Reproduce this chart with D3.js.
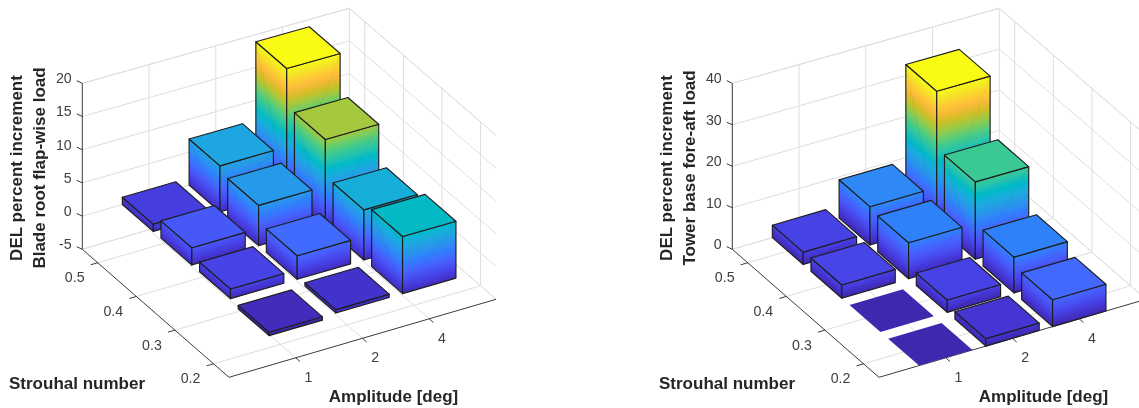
<!DOCTYPE html>
<html>
<head>
<meta charset="utf-8">
<script src="https://cdn.jsdelivr.net/npm/d3@7"></script>
<style>
html,body{margin:0;padding:0;background:#fff;overflow:hidden}
svg{display:block;filter:blur(0.35px)}
text{font-family:"Liberation Sans",Arial,Helvetica,sans-serif}
</style>
</head>
<body>
<svg id="chart" width="1139" height="408"></svg>
<script>
// ---------- data ----------
const amplitudeLabels = ["1", "2", "4"];
const strouhalLabels = ["0.2", "0.3", "0.4", "0.5"];

// rows: amplitude; columns: Strouhal number 0.2 .. 0.5
const bladeRootAmp1 = [-0.5, 1.45, 2.6, 1.1];
const bladeRootAmp2 = [0.5, 3.55, 6.1, 7.0];
const bladeRootAmp4 = [8.65, 7.6, 13.2, 18.9];

const towerBaseAmp1 = [-0.2, -0.2, 3.2, 3.0];
const towerBaseAmp2 = [1.8, 3.0, 8.7, 9.3];
const towerBaseAmp4 = [6.5, 8.7, 18.8, 32.7];

const bladeZTicks = [-5, 0, 5, 10, 15, 20];
const towerZTicks = [0, 10, 20, 30, 40];

const bladeYLabel = ["DEL percent increment", "Blade root flap-wise load"];
const towerYLabel = ["DEL percent increment", "Tower base fore-aft load"];

// MATLAB parula colormap
const parula = [[0.2422,0.1504,0.6603],[0.2504,0.1650,0.7076],[0.2578,0.1818,0.7511],[0.2647,0.1978,0.7952],[0.2706,0.2147,0.8364],[0.2751,0.2342,0.8710],[0.2783,0.2559,0.8991],[0.2803,0.2782,0.9221],[0.2813,0.3006,0.9414],[0.2810,0.3228,0.9579],[0.2795,0.3447,0.9717],[0.2760,0.3667,0.9829],[0.2699,0.3892,0.9906],[0.2602,0.4123,0.9952],[0.2440,0.4358,0.9988],[0.2206,0.4603,0.9973],[0.1963,0.4847,0.9892],[0.1834,0.5074,0.9798],[0.1786,0.5289,0.9682],[0.1764,0.5499,0.9520],[0.1687,0.5703,0.9359],[0.1540,0.5902,0.9218],[0.1460,0.6091,0.9079],[0.1380,0.6276,0.8973],[0.1248,0.6459,0.8883],[0.1113,0.6635,0.8763],[0.0952,0.6798,0.8598],[0.0689,0.6948,0.8394],[0.0297,0.7082,0.8163],[0.0036,0.7203,0.7917],[0.0067,0.7312,0.7660],[0.0433,0.7411,0.7394],[0.0964,0.7500,0.7120],[0.1408,0.7584,0.6842],[0.1717,0.7670,0.6554],[0.1938,0.7758,0.6251],[0.2161,0.7843,0.5923],[0.2470,0.7918,0.5567],[0.2906,0.7973,0.5188],[0.3406,0.8008,0.4789],[0.3909,0.8029,0.4354],[0.4456,0.8024,0.3909],[0.5044,0.7993,0.3480],[0.5616,0.7942,0.3045],[0.6174,0.7876,0.2612],[0.6720,0.7793,0.2227],[0.7242,0.7698,0.1910],[0.7738,0.7598,0.1646],[0.8203,0.7498,0.1535],[0.8634,0.7406,0.1596],[0.9035,0.7330,0.1774],[0.9393,0.7288,0.2100],[0.9728,0.7298,0.2394],[0.9956,0.7434,0.2371],[0.9970,0.7659,0.2199],[0.9952,0.7893,0.2028],[0.9892,0.8136,0.1885],[0.9786,0.8386,0.1766],[0.9676,0.8639,0.1643],[0.9610,0.8890,0.1537],[0.9597,0.9135,0.1423],[0.9628,0.9373,0.1265],[0.9691,0.9606,0.1064],[0.9769,0.9839,0.0805]]
  .map(c => d3.rgb(c[0]*255, c[1]*255, c[2]*255).formatHex());

// ---------- drawing ----------
const svg = d3.select("#chart");
const defs = svg.append("defs");
let gid = 0;

const AXIS = "#262626", GRID = "#dedede", TEXT = "#404040", LABEL = "#262626", EDGE = "#1e1e1e";

function panel(dx, matrix, zDomain, zTicks, yLabel) {
  const g = svg.append("g").attr("transform", `translate(${dx},0)`);

  // data space -> unit cube
  const sx = d3.scaleLinear().domain([0, 4]).range([0, 1]);
  const sy = d3.scaleLinear().domain([0.6, 4.4]).range([0, 1]);
  const sz = d3.scaleLinear().domain(zDomain).range([0, 1]);

  // unit cube -> screen (view of a MATLAB 3-D axes)
  const front = [229, 377.3], ex = [267, -78], ey = [-146.7, -128], H = 167;
  const proj = (X, Y, Z) => {
    const u = sx(X), v = sy(Y), w = sz(Z);
    const h = H * (1 - 0.018 * u - 0.006 * v);
    return [front[0] + u*ex[0] + v*ey[0], front[1] + u*ex[1] + v*ey[1] - w*h];
  };
  const xLo = 0, xHi = 4, yLo = 0.6, yHi = 4.4, zLo = zDomain[0], zHi = zDomain[1];
  const line = d3.line();
  const seg = (a, b, stroke, w) => g.append("path").attr("d", line([a, b]))
    .attr("fill", "none").attr("stroke", stroke).attr("stroke-width", w);

  // grid on walls and floor
  zTicks.forEach(t => {
    seg(proj(xLo, yHi, t), proj(xHi, yHi, t), GRID, 1);
    seg(proj(xHi, yHi, t), proj(xHi, yLo, t), GRID, 1);
  });
  d3.range(1, 4).forEach(i => {
    seg(proj(i, yLo, zLo), proj(i, yHi, zLo), GRID, 1);
    seg(proj(i, yHi, zLo), proj(i, yHi, zHi), GRID, 1);
  });
  d3.range(1, 5).forEach(j => {
    seg(proj(xLo, j, zLo), proj(xHi, j, zLo), GRID, 1);
    seg(proj(xHi, j, zLo), proj(xHi, j, zHi), GRID, 1);
  });
  seg(proj(xLo, yHi, zHi), proj(xHi, yHi, zHi), GRID, 1);
  seg(proj(xHi, yHi, zLo), proj(xHi, yHi, zHi), GRID, 1);
  seg(proj(xHi, yHi, zHi), proj(xHi, yLo, zHi), GRID, 1);
  seg(proj(xLo, yHi, zLo), proj(xHi, yHi, zLo), GRID, 1);
  seg(proj(xHi, yHi, zLo), proj(xHi, yLo, zLo), GRID, 1);

  // axes lines
  seg(proj(xLo, yHi, zLo), proj(xLo, yHi, zHi), AXIS, 0.9);
  seg(proj(xLo, yHi, zLo), proj(xLo, yLo, zLo), AXIS, 0.9);
  seg(proj(xLo, yLo, zLo), proj(xHi, yLo, zLo), AXIS, 0.9);

  // ticks + tick labels
  const tickText = (p, s, anchor) => g.append("text")
    .attr("x", p[0]).attr("y", p[1]).attr("text-anchor", anchor)
    .attr("dominant-baseline", "central")
    .attr("font-size", 14.2).attr("fill", TEXT).text(s);

  zTicks.forEach(t => {
    const a = proj(xLo, yHi, t);
    seg(a, [a[0] - 5.6, a[1] - 2.6], AXIS, 0.9);
    tickText([a[0] - 10.6, a[1] - 5.2], t, "end");
  });
  amplitudeLabels.forEach((s, i) => {
    const a = proj(i + 1, yLo, zLo);
    seg(a, [a[0] + 4.2, a[1] + 3.8], AXIS, 0.9);
    tickText([a[0] + 12.7, a[1] + 19], s, "middle");
  });
  strouhalLabels.forEach((s, j) => {
    const a = proj(xLo, j + 1, zLo);
    seg(a, [a[0] - 7, a[1] + 2], AXIS, 0.9);
    tickText([a[0] - 23, a[1] + 14.6], s, "middle");
  });

  // bars, back to front
  const allV = matrix.flat();
  const cMin = d3.min(allV), cMax = d3.max(allV);
  const color = d3.scaleLinear()
    .domain(parula.map((_, k) => cMin + (cMax - cMin) * k / (parula.length - 1)))
    .range(parula);

  const w = 0.4;
  function face(pts, z0, z1, baseA, baseB, topA, diagA, diagB) {
    // gradient isolines follow the horizontal edge baseA-baseB
    const e = [baseB[0]-baseA[0], baseB[1]-baseA[1]];
    const L = Math.hypot(e[0], e[1]);
    const n = [-e[1]/L, e[0]/L];
    const v = [topA[0]-baseA[0], topA[1]-baseA[1]];
    const d = v[0]*n[0] + v[1]*n[1];
    const id = "g" + (gid++);
    const gr = defs.append("linearGradient").attr("id", id)
      .attr("gradientUnits", "userSpaceOnUse")
      .attr("x1", baseA[0]).attr("y1", baseA[1])
      .attr("x2", baseA[0] + n[0]*d).attr("y2", baseA[1] + n[1]*d);
    d3.range(0, 25).forEach(k => {
      const t = k / 24;
      gr.append("stop").attr("offset", t).attr("stop-color", color(z0 + (z1 - z0) * t));
    });
    g.append("path").attr("d", line(pts) + "Z").attr("fill", `url(#${id})`)
      .attr("stroke", EDGE).attr("stroke-width", 1.15).attr("stroke-linejoin", "round");
    g.append("path").attr("d", line([diagA, diagB])).attr("fill", "none")
      .attr("stroke", "#000").attr("stroke-opacity", 0.05).attr("stroke-width", 1);
  }

  for (let i = amplitudeLabels.length - 1; i >= 0; i--) {
    for (let j = strouhalLabels.length - 1; j >= 0; j--) {
      const val = matrix[i][j];
      const X = i + 1, Y = j + 1;
      // a bar below the axis limit is clipped to the floor
      const clipped = val < 0 && zLo >= 0;
      const zBase = Math.max(zLo, Math.min(0, val)), zTop = Math.max(0, val);
      const b = (x, y) => proj(x, y, zBase), t = (x, y) => proj(x, y, zTop);
      const fA = b(X-w, Y+w), fB = b(X-w, Y-w), fC = b(X+w, Y-w);
      const tA = t(X-w, Y+w), tB = t(X-w, Y-w), tC = t(X+w, Y-w), tD = t(X+w, Y+w);
      if (zTop > zBase + 1e-6) {
        face([fA, fB, tB, tA], zBase, zTop, fA, fB, tA, fB, tA);
        face([fB, fC, tC, tB], zBase, zTop, fB, fC, tB, fB, tC);
      }
      g.append("path").attr("d", line([tA, tB, tC, tD]) + "Z")
        .attr("fill", color(zTop))
        .attr("stroke", clipped ? "none" : EDGE).attr("stroke-width", 1.15)
        .attr("stroke-linejoin", "round");
    }
  }

  // axis titles
  const bold = (x, y, s, anchor, rot) => {
    const el = g.append("text").attr("font-size", 17).attr("font-weight", "bold")
      .attr("fill", LABEL).attr("text-anchor", anchor).attr("dominant-baseline", "central").text(s);
    el.attr("transform", rot ? `translate(${x},${y}) rotate(-90)` : `translate(${x},${y})`);
  };
  bold(16.5, 168, yLabel[0], "middle", true);
  bold(39, 168, yLabel[1], "middle", true);
  bold(9, 383, "Strouhal number", "start");
  bold(393.5, 396.5, "Amplitude [deg]", "middle");
}

panel(0, [bladeRootAmp1, bladeRootAmp2, bladeRootAmp4], [-5, 20], bladeZTicks, bladeYLabel);
panel(650, [towerBaseAmp1, towerBaseAmp2, towerBaseAmp4], [0, 40], towerZTicks, towerYLabel);
</script>
</body>
</html>
